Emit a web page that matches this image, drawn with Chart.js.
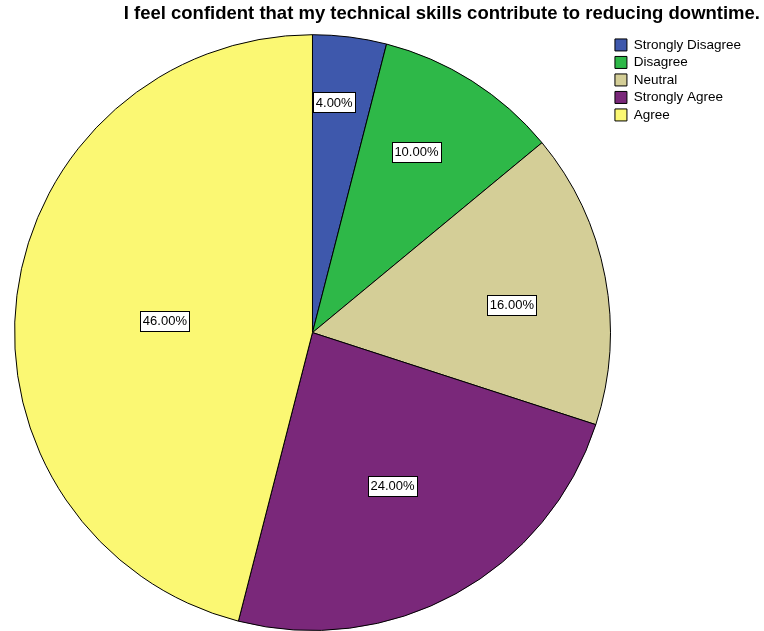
<!DOCTYPE html>
<html>
<head>
<meta charset="utf-8">
<script src="https://cdn.jsdelivr.net/npm/chart.js@4/dist/chart.umd.min.js"></script>
<style>
  html, body { margin: 0; padding: 0; background: #fff; }
  #wrap { width: 764px; height: 631px; }
</style>
</head>
<body>
<div id="wrap"><canvas id="pieChart"></canvas></div>
<script>
// ---------------- DATA ----------------
const categories = ["Strongly Disagree", "Disagree", "Neutral", "Strongly Agree", "Agree"];
const percents = [4, 10, 16, 24, 46];
const sliceColors = ["#3E58AC", "#2EB848", "#D4CE97", "#7A287A", "#FBF873"];
// where each value label sits: fraction of radius, and a small angle nudge (degrees)
const labelRadius = [0.776, 0.70, 0.676, 0.58, 0.497];
const labelShift = [-1.8, -2.5, 2.8, 1.2, -2.6];

const FONT = "'Liberation Sans', Arial, sans-serif";

// ---------------- VALUE LABELS ----------------
const valueLabels = {
  id: "valueLabels",
  afterDatasetsDraw(chart) {
    const ctx = chart.ctx;
    const meta = chart.getDatasetMeta(0);
    ctx.save();
    ctx.font = "13px " + FONT;
    ctx.textAlign = "center";
    ctx.textBaseline = "middle";
    meta.data.forEach((arc, i) => {
      const p = arc.getProps(["x", "y", "startAngle", "endAngle", "outerRadius"], true);
      const mid = (p.startAngle + p.endAngle) / 2 + labelShift[i] * Math.PI / 180;
      const r = p.outerRadius * labelRadius[i];
      const x = p.x + Math.cos(mid) * r;
      const y = p.y + Math.sin(mid) * r;
      const text = percents[i].toFixed(2) + "%";
      const w = Math.round(ctx.measureText(text).width + 5);
      const h = 20;
      const bx = Math.round(x - w / 2) + 0.5;
      const by = Math.round(y - h / 2) + 0.5;
      ctx.fillStyle = "#fff";
      ctx.fillRect(bx, by, w, h);
      ctx.strokeStyle = "#000";
      ctx.lineWidth = 1;
      ctx.strokeRect(bx, by, w, h);
      ctx.fillStyle = "#000";
      ctx.fillText(text, x, y + 1);
    });
    ctx.restore();
  }
};

// legend gets some extra room on its right side
const legendRoom = {
  id: "legendRoom",
  beforeInit(chart) {
    const fit = chart.legend.fit;
    chart.legend.fit = function () {
      fit.call(this);
      this.width += 9;
    };
  }
};

// ---------------- PIE CHART ----------------
new Chart(document.getElementById("pieChart"), {
  type: "pie",
  data: {
    labels: categories,
    datasets: [{
      data: percents,
      backgroundColor: sliceColors,
      borderColor: "#000",
      borderWidth: 1
    }]
  },
  options: {
    responsive: true,
    maintainAspectRatio: false,
    animation: false,
    layout: { padding: { left: 14, right: 4, top: 0, bottom: 0 } },
    plugins: {
      title: {
        display: true,
        text: "I feel confident that my technical skills contribute to reducing downtime.",
        align: "end",
        color: "#000",
        font: { family: FONT, size: 18.5, weight: "bold" },
        padding: { top: 3, bottom: 9 }
      },
      legend: {
        position: "right",
        align: "start",
        fullSize: false,
        labels: {
          color: "#000",
          boxWidth: 12,
          boxHeight: 12,
          padding: 4,
          font: { family: FONT, size: 13.5 }
        }
      },
      tooltip: { enabled: false }
    }
  },
  plugins: [legendRoom, valueLabels]
});
</script>
</body>
</html>
